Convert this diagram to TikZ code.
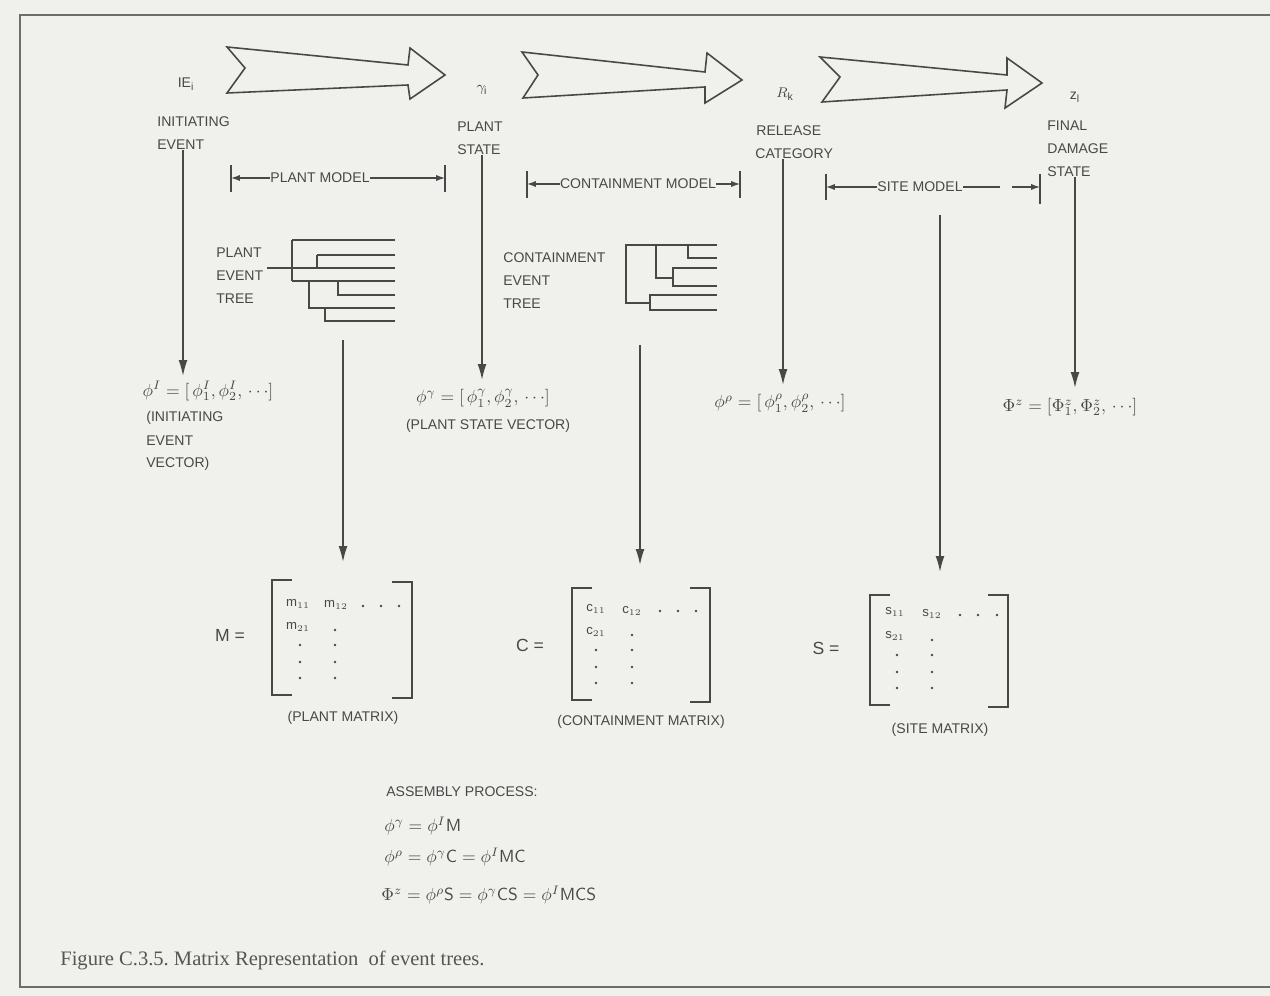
\documentclass[tikz,border=0pt]{standalone}
\usepackage{fontspec}
\setmainfont{Liberation Sans}
\newfontfamily\capfont{Liberation Serif}
\usetikzlibrary{arrows.meta}
\definecolor{bg}{RGB}{240,240,237}
\definecolor{ink}{RGB}{72,72,72}
\definecolor{capink}{RGB}{85,85,85}
\tikzset{
  lbl/.style={font=\fontsize{8}{9}\selectfont, text=ink, inner sep=0pt},
  mth/.style={font=\fontsize{10}{12}\selectfont, text=ink, inner sep=0pt},
  ent/.style={font=\fontsize{7.5}{8}\selectfont, text=ink, inner sep=0pt},
  hollow/.style={draw=ink, line width=0.9pt, line join=miter},
  ln/.style={draw=ink, line width=0.8pt},
  varr/.style={draw=ink, line width=0.9pt, -{Latex[length=9pt,width=5pt]}},
  darr/.style={draw=ink, line width=0.7pt, -{Latex[length=5pt,width=3.5pt]}},
  brk/.style={draw=ink, line width=1.1pt},
  dotf/.style={fill=ink}
}
\begin{document}
\begin{tikzpicture}[x=0.02cm,y=-0.02cm]
\useasboundingbox (0,0) rectangle (1270,996);
\fill[bg] (0,0) rectangle (1270,996);
% frame
\draw[draw=ink!80, line width=0.8pt] (1275,15) -- (20,15) -- (20,987) -- (1275,987);

% hollow arrows
\draw[hollow] (227,47) -- (408,65) -- (410,48) -- (445,75) -- (410,99) -- (408,85) -- (227,93) -- (245,68) -- cycle;
\draw[hollow] (522,52) -- (705,72) -- (707,53) -- (742,80) -- (705,103) -- (705,87) -- (523,98) -- (538,75) -- cycle;
\draw[hollow] (820,57) -- (1007,75) -- (1007,58) -- (1042,83) -- (1005,108) -- (1007,90) -- (822,102) -- (840,77) -- cycle;

% state symbols
\node[mth, font=\fontsize{8}{9}\selectfont] (ie) at (186,84) {IE$_{\mathrm{i}}$};
\node[mth, font=\fontsize{8}{9}\selectfont] (gam) at (482,90) {$\gamma_{\mathrm{i}}$};
\node[mth, font=\fontsize{8}{9}\selectfont] (rk) at (785,94) {$R_{\mathrm{k}}$};
\node[mth, font=\fontsize{8}{9}\selectfont] (zl) at (1075,97) {z$_{\mathrm{l}}$};

% state labels
\node[lbl, anchor=west] (ie1) at (157,122) {INITIATING};
\node[lbl, anchor=west] (ie2) at (157,145) {EVENT};
\node[lbl, anchor=west] (ps1) at (457,127) {PLANT};
\node[lbl, anchor=west] (ps2) at (457,150) {STATE};
\node[lbl, anchor=west] (rc1) at (756,131) {RELEASE};
\node[lbl, anchor=west] (rc2) at (755,154) {CATEGORY};
\node[lbl, anchor=west] (fd1) at (1047,126) {FINAL};
\node[lbl, anchor=west] (fd2) at (1047,149) {DAMAGE};
\node[lbl, anchor=west] (fd3) at (1047,172) {STATE};

% model dimension lines
\node[lbl] (pm) at (320,178) {PLANT MODEL};
\coordinate (pmL) at (231,178); \coordinate (pmR) at (445,178);
\draw[ln] (231,165) -- (231,192); \draw[ln] (445,165) -- (445,192);
\draw[darr] (pm.west) -- (pmL); \draw[darr] (pm.east) -- (pmR);

\node[lbl] (cm) at (638,184) {CONTAINMENT MODEL};
\coordinate (cmL) at (527,184); \coordinate (cmR) at (740,184);
\draw[ln] (527,171) -- (527,198); \draw[ln] (740,171) -- (740,198);
\draw[darr] (cm.west) -- (cmL); \draw[darr] (cm.east) -- (cmR);

\node[lbl] (sm) at (920,187) {SITE MODEL};
\coordinate (smL) at (826,187); \coordinate (smR) at (1040,187);
\draw[ln] (826,174) -- (826,200); \draw[ln] (1040,174) -- (1040,204);
\draw[darr] (sm.west) -- (smL);
\draw[ln] (sm.east) -- (1000,187);
\draw[darr] (1012,187) -- (smR);

% plant event tree
\node[lbl, anchor=west] (pt1) at (216,253) {PLANT};
\node[lbl, anchor=west] (pt2) at (216,276) {EVENT};
\node[lbl, anchor=west] (pt3) at (216,299) {TREE};
\draw[ln] (267,268) -- (395,268);
\draw[ln] (292,240) -- (292,281);
\draw[ln] (292,240) -- (395,240);
\draw[ln] (317,255) -- (317,268);
\draw[ln] (317,255) -- (395,255);
\draw[ln] (292,281) -- (395,281);
\draw[ln] (338,281) -- (338,295) -- (395,295);
\draw[ln] (309,281) -- (309,308) -- (395,308);
\draw[ln] (325,308) -- (325,321) -- (395,321);

% containment event tree
\node[lbl, anchor=west] (ct1) at (503,258) {CONTAINMENT};
\node[lbl, anchor=west] (ct2) at (503,281) {EVENT};
\node[lbl, anchor=west] (ct3) at (503,304) {TREE};
\draw[ln] (717,245) -- (626,245) -- (626,303) -- (650,303);
\draw[ln] (656,245) -- (656,278) -- (673,278);
\draw[ln] (688,245) -- (688,258) -- (717,258);
\draw[ln] (717,268) -- (673,268) -- (673,286) -- (717,286);
\draw[ln] (717,295) -- (650,295) -- (650,310) -- (717,310);

% vectors
\node[mth] (vI) at (208,391) {$\phi^{I} = [\,\phi^{I}_{1},\phi^{I}_{2},\,\cdots]$};
\node[lbl, anchor=west] (vI1) at (146,418) {(INITIATING};
\node[lbl, anchor=west] (vI2) at (146,441) {EVENT};
\node[lbl, anchor=west] (vI3) at (146,464) {VECTOR)};
\node[mth] (vg) at (483,398) {$\phi^{\gamma} = [\,\phi^{\gamma}_{1},\phi^{\gamma}_{2},\,\cdots]$};
\node[lbl] (vg1) at (488,426) {(PLANT STATE VECTOR)};
\node[mth] (vr) at (780,403) {$\phi^{\rho} = [\,\phi^{\rho}_{1},\phi^{\rho}_{2},\,\cdots]$};
\node[mth] (vz) at (1070,407) {$\Phi^{z} = [\Phi^{z}_{1},\Phi^{z}_{2},\,\cdots]$};

% vertical arrows to vectors
\coordinate (aI) at (183,376);
\coordinate (ag) at (482,380);
\coordinate (ar) at (783,385);
\coordinate (az) at (1075,388);
\draw[varr] (ie2.south -| aI) -- (aI);
\draw[varr] (ps2.south -| ag) -- (ag);
\draw[varr] (rc2.south -| ar) -- (ar);
\draw[varr] (fd3.south -| az) -- (az);

% arrows from trees to matrices
\coordinate (tp) at (343,340); \coordinate (mp) at (343,562);
\coordinate (tc) at (640,345); \coordinate (mc) at (640,565);
\coordinate (ts) at (940,215); \coordinate (ms) at (940,572);
\draw[varr] (tp) -- (mp);
\draw[varr] (tc) -- (mc);
\draw[varr] (ts) -- (ms);

% Plant matrix
\node[mth] (Mlab) at (230,635) {M =};
\draw[brk] (292,580) -- (272,580) -- (272,695) -- (292,695);
\draw[brk] (392,582) -- (412,582) -- (412,698) -- (392,698);
\node[ent] (m11) at (298,604) {m$_{11}$};
\node[ent] (m12) at (336,605) {m$_{12}$};
\node[ent] (m21) at (298,627) {m$_{21}$};
\foreach \x in {363,381,399} \fill[dotf] (\x,606) circle (1.3);
\foreach \y in {645,662,678} \fill[dotf] (300,\y) circle (1.3);
\foreach \y in {630,645,662,678} \fill[dotf] (335,\y) circle (1.3);
\node[lbl] (Mcap) at (343,718) {(PLANT MATRIX)};

% Containment matrix
\node[mth] (Clab) at (530,645) {C =};
\draw[brk] (592,588) -- (572,588) -- (572,700) -- (592,700);
\draw[brk] (690,588) -- (710,588) -- (710,702) -- (690,702);
\node[ent] (c11) at (596,609) {c$_{11}$};
\node[ent] (c12) at (632,611) {c$_{12}$};
\node[ent] (c21) at (596,632) {c$_{21}$};
\foreach \x in {660,678,696} \fill[dotf] (\x,611) circle (1.3);
\foreach \y in {650,667,683} \fill[dotf] (596,\y) circle (1.3);
\foreach \y in {635,650,667,683} \fill[dotf] (632,\y) circle (1.3);
\node[lbl] (Ccap) at (641,722) {(CONTAINMENT MATRIX)};

% Site matrix
\node[mth] (Slab) at (826,648) {S =};
\draw[brk] (890,595) -- (870,595) -- (870,705) -- (890,705);
\draw[brk] (988,595) -- (1008,595) -- (1008,707) -- (988,707);
\node[ent] (s11) at (895,612) {s$_{11}$};
\node[ent] (s12) at (932,614) {s$_{12}$};
\node[ent] (s21) at (895,636) {s$_{21}$};
\foreach \x in {960,978,997} \fill[dotf] (\x,615) circle (1.3);
\foreach \y in {655,672,688} \fill[dotf] (897,\y) circle (1.3);
\foreach \y in {640,655,672,688} \fill[dotf] (932,\y) circle (1.3);
\node[lbl] (Scap) at (940,730) {(SITE MATRIX)};

% Assembly process
\node[lbl, anchor=west] (ap) at (386,792) {ASSEMBLY PROCESS:};
\node[mth, anchor=west] (ap1) at (384,826) {$\phi^{\gamma} = \phi^{I}\mathsf{M}$};
\node[mth, anchor=west] (ap2) at (384,857) {$\phi^{\rho} = \phi^{\gamma}\mathsf{C} = \phi^{I}\mathsf{MC}$};
\node[mth, anchor=west] (ap3) at (381,895) {$\Phi^{z} = \phi^{\rho}\mathsf{S} = \phi^{\gamma}\mathsf{CS} = \phi^{I}\mathsf{MCS}$};

% caption
\node[anchor=west, text=capink, font=\capfont\fontsize{11.7}{13}\selectfont, inner sep=0pt] (cap) at (60,960) {Figure C.3.5.\ Matrix Representation\ \ of event trees.};
\end{tikzpicture}
\end{document}
